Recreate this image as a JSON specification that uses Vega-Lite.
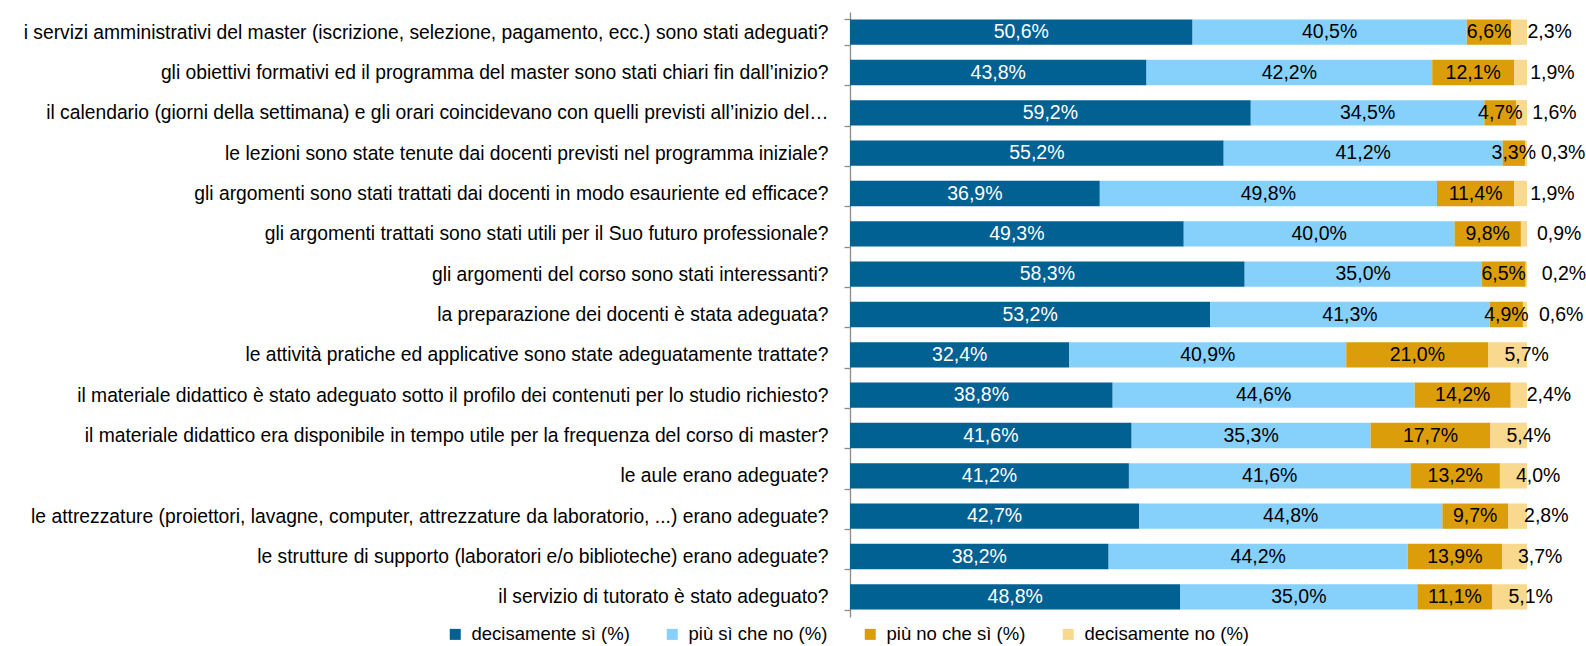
{
  "$schema": "https://vega.github.io/schema/vega-lite/v6.json",
  "width": 677,
  "height": 605,
  "autosize": {"type": "none"},
  "padding": {"left": 850, "top": 12, "right": 59, "bottom": 29},
  "background": "white",
  "config": {
    "view": {"stroke": null},
    "font": "Liberation Sans",
    "text": {"font": "Liberation Sans"}
  },
  "data": {"values": [
    {"q": "i servizi amministrativi del master (iscrizione, selezione, pagamento, ecc.) sono stati adeguati?", "s": "decisamente sì (%)", "v": 50.6},
    {"q": "i servizi amministrativi del master (iscrizione, selezione, pagamento, ecc.) sono stati adeguati?", "s": "più sì che no (%)", "v": 40.5},
    {"q": "i servizi amministrativi del master (iscrizione, selezione, pagamento, ecc.) sono stati adeguati?", "s": "più no che sì (%)", "v": 6.6},
    {"q": "i servizi amministrativi del master (iscrizione, selezione, pagamento, ecc.) sono stati adeguati?", "s": "decisamente no (%)", "v": 2.3},
    {"q": "gli obiettivi formativi ed il programma del master sono stati chiari fin dall’inizio?", "s": "decisamente sì (%)", "v": 43.8},
    {"q": "gli obiettivi formativi ed il programma del master sono stati chiari fin dall’inizio?", "s": "più sì che no (%)", "v": 42.2},
    {"q": "gli obiettivi formativi ed il programma del master sono stati chiari fin dall’inizio?", "s": "più no che sì (%)", "v": 12.1},
    {"q": "gli obiettivi formativi ed il programma del master sono stati chiari fin dall’inizio?", "s": "decisamente no (%)", "v": 1.9},
    {"q": "il calendario (giorni della settimana) e gli orari coincidevano con quelli previsti all’inizio del…", "s": "decisamente sì (%)", "v": 59.2},
    {"q": "il calendario (giorni della settimana) e gli orari coincidevano con quelli previsti all’inizio del…", "s": "più sì che no (%)", "v": 34.5},
    {"q": "il calendario (giorni della settimana) e gli orari coincidevano con quelli previsti all’inizio del…", "s": "più no che sì (%)", "v": 4.7},
    {"q": "il calendario (giorni della settimana) e gli orari coincidevano con quelli previsti all’inizio del…", "s": "decisamente no (%)", "v": 1.6},
    {"q": "le lezioni sono state tenute dai docenti previsti nel programma iniziale?", "s": "decisamente sì (%)", "v": 55.2},
    {"q": "le lezioni sono state tenute dai docenti previsti nel programma iniziale?", "s": "più sì che no (%)", "v": 41.2},
    {"q": "le lezioni sono state tenute dai docenti previsti nel programma iniziale?", "s": "più no che sì (%)", "v": 3.3},
    {"q": "le lezioni sono state tenute dai docenti previsti nel programma iniziale?", "s": "decisamente no (%)", "v": 0.3},
    {"q": "gli argomenti sono stati trattati dai docenti in modo esauriente ed efficace?", "s": "decisamente sì (%)", "v": 36.9},
    {"q": "gli argomenti sono stati trattati dai docenti in modo esauriente ed efficace?", "s": "più sì che no (%)", "v": 49.8},
    {"q": "gli argomenti sono stati trattati dai docenti in modo esauriente ed efficace?", "s": "più no che sì (%)", "v": 11.4},
    {"q": "gli argomenti sono stati trattati dai docenti in modo esauriente ed efficace?", "s": "decisamente no (%)", "v": 1.9},
    {"q": "gli argomenti trattati sono stati utili per il Suo futuro professionale?", "s": "decisamente sì (%)", "v": 49.3},
    {"q": "gli argomenti trattati sono stati utili per il Suo futuro professionale?", "s": "più sì che no (%)", "v": 40.0},
    {"q": "gli argomenti trattati sono stati utili per il Suo futuro professionale?", "s": "più no che sì (%)", "v": 9.8},
    {"q": "gli argomenti trattati sono stati utili per il Suo futuro professionale?", "s": "decisamente no (%)", "v": 0.9},
    {"q": "gli argomenti del corso sono stati interessanti?", "s": "decisamente sì (%)", "v": 58.3},
    {"q": "gli argomenti del corso sono stati interessanti?", "s": "più sì che no (%)", "v": 35.0},
    {"q": "gli argomenti del corso sono stati interessanti?", "s": "più no che sì (%)", "v": 6.5},
    {"q": "gli argomenti del corso sono stati interessanti?", "s": "decisamente no (%)", "v": 0.2},
    {"q": "la preparazione dei docenti è stata adeguata?", "s": "decisamente sì (%)", "v": 53.2},
    {"q": "la preparazione dei docenti è stata adeguata?", "s": "più sì che no (%)", "v": 41.3},
    {"q": "la preparazione dei docenti è stata adeguata?", "s": "più no che sì (%)", "v": 4.9},
    {"q": "la preparazione dei docenti è stata adeguata?", "s": "decisamente no (%)", "v": 0.6},
    {"q": "le attività pratiche ed applicative sono state adeguatamente trattate?", "s": "decisamente sì (%)", "v": 32.4},
    {"q": "le attività pratiche ed applicative sono state adeguatamente trattate?", "s": "più sì che no (%)", "v": 40.9},
    {"q": "le attività pratiche ed applicative sono state adeguatamente trattate?", "s": "più no che sì (%)", "v": 21.0},
    {"q": "le attività pratiche ed applicative sono state adeguatamente trattate?", "s": "decisamente no (%)", "v": 5.7},
    {"q": "il materiale didattico è stato adeguato sotto il profilo dei contenuti per lo studio richiesto?", "s": "decisamente sì (%)", "v": 38.8},
    {"q": "il materiale didattico è stato adeguato sotto il profilo dei contenuti per lo studio richiesto?", "s": "più sì che no (%)", "v": 44.6},
    {"q": "il materiale didattico è stato adeguato sotto il profilo dei contenuti per lo studio richiesto?", "s": "più no che sì (%)", "v": 14.2},
    {"q": "il materiale didattico è stato adeguato sotto il profilo dei contenuti per lo studio richiesto?", "s": "decisamente no (%)", "v": 2.4},
    {"q": "il materiale didattico era disponibile in tempo utile per la frequenza del corso di master?", "s": "decisamente sì (%)", "v": 41.6},
    {"q": "il materiale didattico era disponibile in tempo utile per la frequenza del corso di master?", "s": "più sì che no (%)", "v": 35.3},
    {"q": "il materiale didattico era disponibile in tempo utile per la frequenza del corso di master?", "s": "più no che sì (%)", "v": 17.7},
    {"q": "il materiale didattico era disponibile in tempo utile per la frequenza del corso di master?", "s": "decisamente no (%)", "v": 5.4},
    {"q": "le aule erano adeguate?", "s": "decisamente sì (%)", "v": 41.2},
    {"q": "le aule erano adeguate?", "s": "più sì che no (%)", "v": 41.6},
    {"q": "le aule erano adeguate?", "s": "più no che sì (%)", "v": 13.2},
    {"q": "le aule erano adeguate?", "s": "decisamente no (%)", "v": 4.0},
    {"q": "le attrezzature (proiettori, lavagne, computer, attrezzature da laboratorio, ...) erano adeguate?", "s": "decisamente sì (%)", "v": 42.7},
    {"q": "le attrezzature (proiettori, lavagne, computer, attrezzature da laboratorio, ...) erano adeguate?", "s": "più sì che no (%)", "v": 44.8},
    {"q": "le attrezzature (proiettori, lavagne, computer, attrezzature da laboratorio, ...) erano adeguate?", "s": "più no che sì (%)", "v": 9.7},
    {"q": "le attrezzature (proiettori, lavagne, computer, attrezzature da laboratorio, ...) erano adeguate?", "s": "decisamente no (%)", "v": 2.8},
    {"q": "le strutture di supporto (laboratori e/o biblioteche) erano adeguate?", "s": "decisamente sì (%)", "v": 38.2},
    {"q": "le strutture di supporto (laboratori e/o biblioteche) erano adeguate?", "s": "più sì che no (%)", "v": 44.2},
    {"q": "le strutture di supporto (laboratori e/o biblioteche) erano adeguate?", "s": "più no che sì (%)", "v": 13.9},
    {"q": "le strutture di supporto (laboratori e/o biblioteche) erano adeguate?", "s": "decisamente no (%)", "v": 3.7},
    {"q": "il servizio di tutorato è stato adeguato?", "s": "decisamente sì (%)", "v": 48.8},
    {"q": "il servizio di tutorato è stato adeguato?", "s": "più sì che no (%)", "v": 35.0},
    {"q": "il servizio di tutorato è stato adeguato?", "s": "più no che sì (%)", "v": 11.1},
    {"q": "il servizio di tutorato è stato adeguato?", "s": "decisamente no (%)", "v": 5.1}
  ]},
  "transform": [
    {"calculate": "indexof(['decisamente sì (%)','più sì che no (%)','più no che sì (%)','decisamente no (%)'], datum.s)", "as": "ord"},
    {"stack": "v", "groupby": ["q"], "sort": [{"field": "ord", "order": "ascending"}], "as": ["x0", "x1"]},
    {"calculate": "(datum.x0 + datum.x1) / 2", "as": "xm"},
    {"calculate": "replace(format(datum.v, '.1f'), '.', ',') + '%'", "as": "lab"}
  ],
  "encoding": {
    "y": {
      "field": "q",
      "type": "nominal",
      "sort": null,
      "title": null,
      "scale": {"paddingInner": 0.37, "paddingOuter": 0.185},
      "axis": {
        "labelFont": "Liberation Sans",
        "labelFontSize": 19.3,
        "labelColor": "#000000",
        "labelLimit": 900,
        "labelPadding": 16,
        "domainColor": "#8c8c8c",
        "tickColor": "#8c8c8c",
        "tickSize": 6,
        "tickBand": "extent",
        "domainWidth": 1.3,
        "tickWidth": 1.3
      }
    }
  },
  "layer": [
    {
      "mark": {"type": "bar"},
      "encoding": {
        "x": {"field": "x0", "type": "quantitative", "scale": {"domain": [0, 100], "nice": false, "zero": true}, "axis": null},
        "x2": {"field": "x1"},
        "color": {
          "field": "s",
          "type": "nominal",
          "sort": ["decisamente sì (%)", "più sì che no (%)", "più no che sì (%)", "decisamente no (%)"],
          "scale": {
            "domain": ["decisamente sì (%)", "più sì che no (%)", "più no che sì (%)", "decisamente no (%)"],
            "range": ["#006192", "#86D0FC", "#DB9E0A", "#F9D98E"]
          },
          "legend": {
            "orient": "none",
            "legendX": -404,
            "legendY": 613,
            "direction": "horizontal",
            "columns": 4,
            "columnPadding": 33,
            "title": null,
            "symbolType": "square",
            "symbolSize": 121,
            "symbolStrokeWidth": 0,
            "labelOffset": 7,
            "labelFont": "Liberation Sans",
            "labelFontSize": 18.5,
            "labelColor": "#000000",
            "labelLimit": 400
          }
        }
      }
    },
    {
      "transform": [{"filter": "datum.ord < 3"}],
      "mark": {"type": "text", "fontSize": 19.5, "baseline": "middle", "align": "center"},
      "encoding": {
        "x": {"field": "xm", "type": "quantitative"},
        "text": {"field": "lab"},
        "color": {"condition": {"test": "datum.ord == 0", "value": "#ffffff"}, "value": "#000000"}
      }
    },
    {
      "transform": [{"filter": "datum.ord == 3"}],
      "mark": {"type": "text", "fontSize": 19.5, "baseline": "middle", "align": "left", "dx": 16, "color": "#000000"},
      "encoding": {
        "x": {"field": "x0", "type": "quantitative"},
        "text": {"field": "lab"}
      }
    }
  ]
}
